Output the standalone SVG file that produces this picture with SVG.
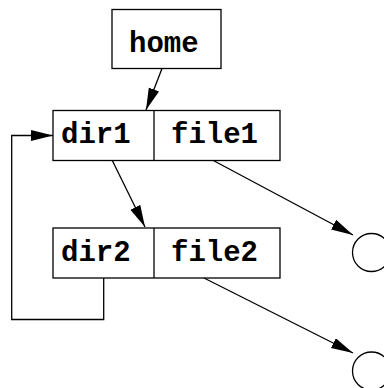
<svg xmlns="http://www.w3.org/2000/svg" width="384" height="388" viewBox="0 0 384 388">
<defs>
<style>
.box{fill:#fff;stroke:#000;stroke-width:1.3}
.ln{fill:none;stroke:#000;stroke-width:1.3}
.t{font-family:"Liberation Mono","Courier New",monospace;font-weight:bold;font-size:29px;fill:#000}
</style>
<marker id="ah" markerUnits="userSpaceOnUse" markerWidth="24" markerHeight="12" refX="22" refY="5.5" orient="auto">
<path d="M0,0 L22,5.5 L0,11 z" fill="#000"/>
</marker>
</defs>
<rect width="384" height="388" fill="#fff"/>
<g id="home">
<rect class="box" x="112" y="9.5" width="109" height="59"/>
<text class="t" x="129" y="51.5">home</text>
</g>
<g id="row1">
<rect class="box" x="53" y="110.5" width="227" height="50"/>
<line class="ln" x1="154" y1="110.5" x2="154" y2="160.5"/>
<text class="t" x="61" y="143">dir1</text>
<text class="t" x="171" y="143">file1</text>
</g>
<g id="row2">
<rect class="box" x="53" y="228" width="227" height="50"/>
<line class="ln" x1="154" y1="228" x2="154" y2="278"/>
<text class="t" x="61" y="260.5">dir2</text>
<text class="t" x="171" y="260.5">file2</text>
</g>
<g id="node1">
<circle class="box" cx="371.5" cy="252.5" r="19"/>
</g>
<g id="node2">
<circle class="box" cx="371.5" cy="371" r="19"/>
</g>
<g id="connectors">
<line class="ln" x1="162" y1="68.5" x2="146" y2="110" marker-end="url(#ah)"/>
<line class="ln" x1="112.3" y1="160.5" x2="145" y2="227" marker-end="url(#ah)"/>
<line class="ln" x1="213.3" y1="160.5" x2="353" y2="235" marker-end="url(#ah)"/>
<line class="ln" x1="204" y1="278" x2="353" y2="353" marker-end="url(#ah)"/>
<polyline class="ln" points="103.7,278 103.7,319.5 11.7,319.5 11.7,135.5 53,135.5" marker-end="url(#ah)"/>
</g>
</svg>
